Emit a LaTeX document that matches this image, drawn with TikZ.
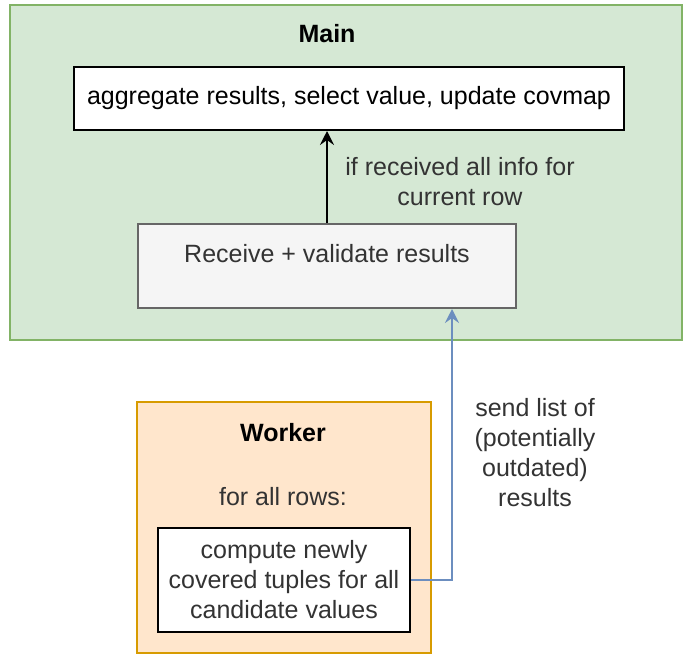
\documentclass[tikz,border=0pt]{standalone}
\usepackage{fontspec}
\setmainfont{Liberation Sans}
\usepackage{tikz}
\usetikzlibrary{arrows.meta, positioning}
\definecolor{maincolor}{HTML}{82B366}
\definecolor{mainfill}{HTML}{D5E8D4}
\definecolor{workcolor}{HTML}{D79B00}
\definecolor{workfill}{HTML}{FFE6CC}
\definecolor{recvcolor}{HTML}{666666}
\definecolor{recvfill}{HTML}{F5F5F5}
\definecolor{sendcolor}{HTML}{6C8EBF}
\definecolor{txtcolor}{HTML}{333333}

\begin{document}
\begin{tikzpicture}[x=1pt, y=-1pt,
    every node/.style={font=\fontsize{12.5}{15}\selectfont, text=txtcolor},
    group/.style={draw, line width=1pt, inner sep=0pt},
    box/.style={draw, line width=1pt, fill=white, align=center, inner sep=0pt},
    lbl/.style={align=center},
    arr/.style={-{Stealth[length=7pt, width=7pt, inset=2.5pt]}, line width=1pt},
    sarr/.style={arr, draw=sendcolor}
]
    \useasboundingbox (0,0) rectangle (345,327);

    % main process
    \node[group, fill=mainfill, draw=maincolor, minimum width=336pt,
          minimum height=167.5pt] (main) at (173,86.25) {};
    \node[lbl, font=\fontsize{12.5}{15}\selectfont\bfseries, text=black]
          (maintitle) at (163.5,17) {Main};
    \node[box, text=black, minimum width=275pt, minimum height=31.5pt]
          (agg) at (174.5,49.25) {aggregate results, select value, update covmap};
    \node[box, fill=recvfill, draw=recvcolor, minimum width=189pt,
          minimum height=42pt] (recv) at (163.5,133) {};
    \node[lbl] (recvtext) at (163.5,127) {Receive + validate results};
    \node[lbl] (cond) at (230,90.75) {if received all info for\\current row};

    % worker process
    \node[group, fill=workfill, draw=workcolor, minimum width=147pt,
          minimum height=125.5pt] (work) at (142,263.75) {};
    \node[lbl, font=\fontsize{12.5}{15}\selectfont\bfseries, text=black]
          (worktitle) at (141.5,216.5) {Worker};
    \node[lbl] (rows) at (141.5,248.5) {for all rows:};
    \node[box, minimum width=126pt, minimum height=52pt] (cmp) at (142,290)
          {compute newly\\covered tuples for all\\candidate values};
    \node[lbl] (send) at (267.5,226.5)
          {send list of\\(potentially\\outdated)\\results};

    \draw[arr] (recv.north) -- (recv.north |- agg.south);
    \draw[sarr] (cmp.east) -| ([xshift=-32.5pt]recv.south east);
\end{tikzpicture}
\end{document}
